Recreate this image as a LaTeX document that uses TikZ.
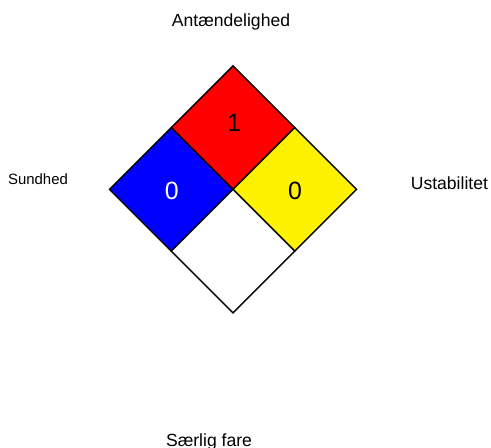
\documentclass[tikz,border=0pt]{standalone}
\usepackage{fontspec}
\setmainfont{Liberation Sans}
\begin{document}
\begin{tikzpicture}[x=0.02cm, y=-0.02cm,
    quad/.style={draw=black, line width=0.8pt, line join=miter},
    num/.style={anchor=base, font=\fontsize{14.2}{16}\selectfont},
    lbl/.style={anchor=base, font=\fontsize{10}{12}\selectfont}]
        \useasboundingbox (0,0) rectangle (491,448);
        \coordinate (top) at (233,66);
        \coordinate (left) at (109.5,189.5);
        \coordinate (right) at (356.5,189.5);
        \coordinate (bottom) at (233,313);
        \coordinate (mid) at (233,189.5);
        \coordinate (ul) at (171.25,127.75);
        \coordinate (ur) at (294.75,127.75);
        \coordinate (ll) at (171.25,251.25);
        \coordinate (lr) at (294.75,251.25);
        \filldraw[quad, fill=red] (top) -- (ur) -- (mid) -- (ul) -- cycle;
        \filldraw[quad, fill=blue] (ul) -- (mid) -- (ll) -- (left) -- cycle;
        \filldraw[quad, fill=yellow] (ur) -- (right) -- (lr) -- (mid) -- cycle;
        \filldraw[quad, fill=white] (mid) -- (lr) -- (bottom) -- (ll) -- cycle;
        \node[num] (flam) at (234,131.7) {1};
        \node[num, white] (health num) at (171.7,199.3) {0};
        \node[num] (instab num) at (295,199.8) {0};
        \node[lbl] (flam lbl) at (231,26.7) {Antændelighed};
        \node[lbl, font=\fontsize{8.5}{10}\selectfont] (health lbl) at (38,184.3) {Sundhed};
        \node[lbl] (instab lbl) at (449.4,190) {Ustabilitet};
        \node[lbl] (special lbl) at (209,446.5) {Særlig fare};
      \end{tikzpicture}
\end{document}
